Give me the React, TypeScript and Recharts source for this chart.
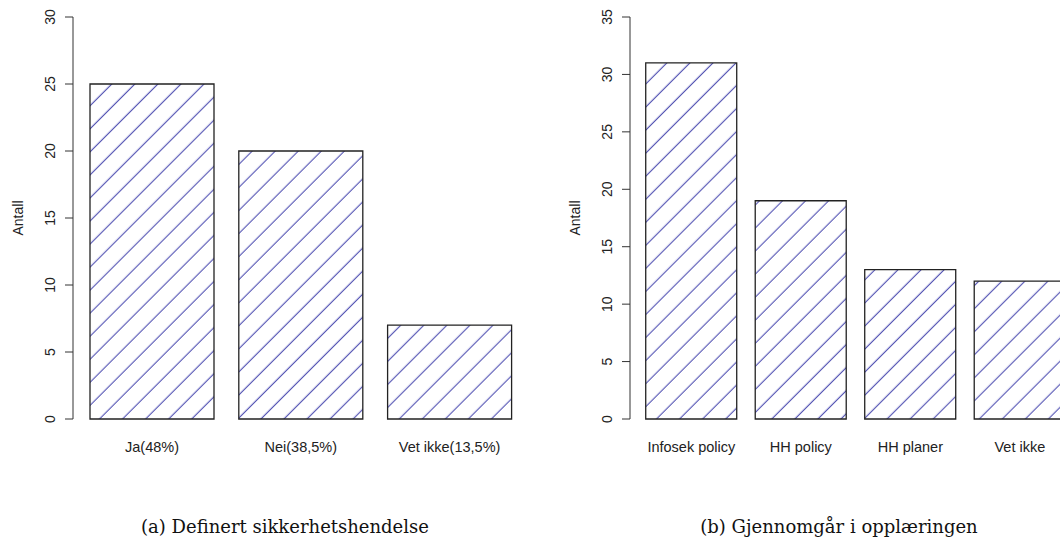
import { BarChart, Bar, XAxis, YAxis } from "recharts";

// Definert sikkerhetshendelse
const incidentCategories = ["Ja(48%)", "Nei(38,5%)", "Vet ikke(13,5%)"];
const incidentCounts = [25, 20, 7];
const incidentTicks = [0, 5, 10, 15, 20, 25, 30];

// Gjennomgår i opplæringen
const trainingCategories = ["Infosek policy", "HH policy", "HH planer", "Vet ikke"];
const trainingCounts = [31, 19, 13, 12];
const trainingTicks = [0, 5, 10, 15, 20, 25, 30, 35];

const yTitle = "Antall";
const captions = ["(a) Definert sikkerhetshendelse", "(b) Gjennomgår i opplæringen"];

const SANS = "'Liberation Sans', Arial, sans-serif";
const SERIF = "'DejaVu Serif', serif";
const INK = "#222";
const HATCH = "#3c3caa";

function RotatedTick(props: any) {
  const { x, y, payload } = props;
  return (
    <text
      x={x}
      y={y}
      transform={`rotate(-90, ${x}, ${y})`}
      textAnchor="middle"
      fontSize={14}
      fontFamily={SANS}
      fill={INK}
    >
      {payload.value}
    </text>
  );
}

function AxisTitle(props: any) {
  const vb = props.viewBox || { x: 0, y: 17, width: 73, height: 402 };
  const x = vb.x + 23;
  const y = vb.y + vb.height / 2;
  return (
    <text
      x={x}
      y={y}
      transform={`rotate(-90, ${x}, ${y})`}
      textAnchor="middle"
      fontSize={14}
      fontFamily={SANS}
      fill={INK}
    >
      {yTitle}
    </text>
  );
}

type PanelProps = {
  categories: string[];
  counts: number[];
  ticks: number[];
  left: number;
  width: number;
  padLeft: number;
  padRight: number;
};

function Panel({ categories, counts, ticks, left, width, padLeft, padRight }: PanelProps) {
  const rows = categories.map((name, i) => ({ name, antall: counts[i] }));
  return (
    <div style={{ position: "absolute", left, top: 0 }}>
      <BarChart
        width={width}
        height={470}
        data={rows}
        margin={{ top: 17, right: 0, bottom: 0, left: 0 }}
        barCategoryGap="8.333%"
      >
        <XAxis
          dataKey="name"
          axisLine={false}
          tickLine={false}
          tickSize={6}
          tickMargin={17}
          height={51}
          interval={0}
          padding={{ left: padLeft, right: padRight }}
          tick={{ fontSize: 14.5, fontFamily: SANS, fill: INK }}
        />
        <YAxis
          width={73}
          domain={[0, ticks[ticks.length - 1]]}
          ticks={ticks}
          interval={0}
          tickSize={8}
          tickMargin={10}
          axisLine={{ stroke: "#333", strokeWidth: 1 }}
          tickLine={{ stroke: "#333", strokeWidth: 1 }}
          tick={<RotatedTick />}
          label={<AxisTitle />}
        />
        <Bar
          dataKey="antall"
          fill="url(#hatch)"
          stroke={INK}
          strokeWidth={1.3}
          isAnimationActive={false}
        />
      </BarChart>
    </div>
  );
}

function Caption({ text, center }: { text: string; center: number }) {
  return (
    <div
      style={{
        position: "absolute",
        left: center - 250,
        width: 500,
        top: 515,
        textAlign: "center",
        fontFamily: SERIF,
        fontSize: 18,
        lineHeight: "24px",
        color: "#111",
      }}
    >
      {text}
    </div>
  );
}

export default function App() {
  return (
    <div
      style={{
        position: "absolute",
        left: 0,
        top: 0,
        width: 1060,
        height: 538,
        overflow: "hidden",
        background: "#fff",
      }}
    >
      <svg width={0} height={0} style={{ position: "absolute" }}>
        <defs>
          <pattern
            id="hatch"
            patternUnits="userSpaceOnUse"
            width={16.3}
            height={16.3}
            patternTransform="rotate(45)"
          >
            <rect width={16.3} height={16.3} fill="#fff" />
            <line x1={8} y1={0} x2={8} y2={16.3} stroke={HATCH} strokeWidth={1} />
          </pattern>
        </defs>
      </svg>
      <Panel
        categories={incidentCategories}
        counts={incidentCounts}
        ticks={incidentTicks}
        left={0}
        width={540}
        padLeft={4.6}
        padRight={16}
      />
      <Panel
        categories={trainingCategories}
        counts={trainingCounts}
        ticks={trainingTicks}
        left={557}
        width={530}
        padLeft={6.6}
        padRight={12.4}
      />
      <Caption text={captions[0]} center={285} />
      <Caption text={captions[1]} center={839} />
    </div>
  );
}
